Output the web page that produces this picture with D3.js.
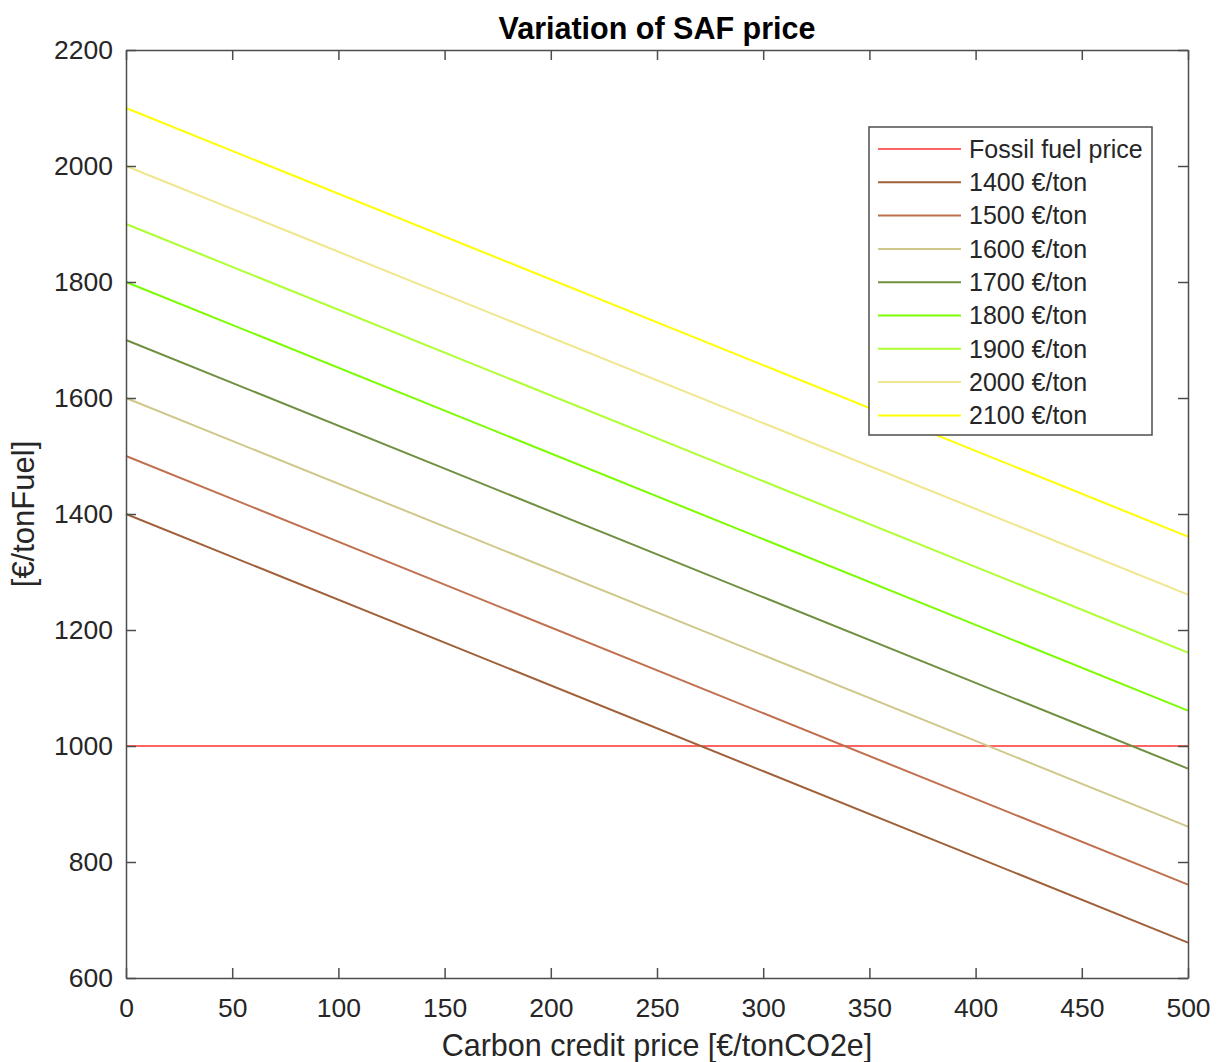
<!DOCTYPE html>
<html>
<head>
<meta charset="utf-8">
<script src="https://cdn.jsdelivr.net/npm/d3@7"></script>
<style>
  body { margin: 0; background: #fff; }
  svg { font-family: "Liberation Sans", Arial, sans-serif; }
</style>
</head>
<body>
<svg width="1220" height="1062"></svg>
<script>
// Data
const carbonPrices = [0, 500];
const fossilPrice = 1000;
const safLabels = ["1400 €/ton", "1500 €/ton", "1600 €/ton", "1700 €/ton", "1800 €/ton", "1900 €/ton", "2000 €/ton", "2100 €/ton"];
const safStart = [1400, 1500, 1600, 1700, 1800, 1900, 2000, 2100];
const safEnd = [661, 761, 861, 961, 1061, 1161, 1261, 1361];
const safColors = ["#a0603a", "#c0704f", "#cfc88a", "#6f9040", "#7cfc00", "#adff2f", "#f0e68c", "#ffff00"];
const xTicks = [0, 50, 100, 150, 200, 250, 300, 350, 400, 450, 500];
const yTicks = [600, 800, 1000, 1200, 1400, 1600, 1800, 2000, 2200];

const svg = d3.select("svg");
const margin = { top: 50, right: 32, bottom: 84, left: 126 };
const width = +svg.attr("width") - margin.left - margin.right;
const height = +svg.attr("height") - margin.top - margin.bottom;

const g = svg.append("g").attr("transform", `translate(${margin.left},${margin.top})`);

const xScale = d3.scaleLinear().domain([0, 500]).range([0, width]);
const yScale = d3.scaleLinear().domain([600, 2200]).range([height, 0]);

const axisColor = "#4d4d4d";
const textColor = "#262626";

// Lines
const line = d3.line().x(d => xScale(d[0])).y(d => yScale(d[1]));

const series = [{ label: "Fossil fuel price", color: "#ff6464", pts: carbonPrices.map(c => [c, fossilPrice]) }]
  .concat(safLabels.map((l, i) => ({ label: l, color: safColors[i], pts: [[carbonPrices[0], safStart[i]], [carbonPrices[1], safEnd[i]]] })));

g.selectAll(".line")
  .data(series)
  .enter().append("path")
  .attr("class", "line")
  .attr("d", d => line(d.pts))
  .attr("fill", "none")
  .attr("stroke", d => d.color)
  .attr("stroke-width", 2);

// Axes (ticks inward, mirrored on all sides)
const tickLen = 10;
const fmt = d3.format("d");
const xAxis = g.append("g").attr("transform", `translate(0,${height})`)
  .call(d3.axisBottom(xScale).tickValues(xTicks).tickFormat(fmt).tickSizeInner(-tickLen).tickSizeOuter(0).tickPadding(20));
const xTop = g.append("g")
  .call(d3.axisTop(xScale).tickValues(xTicks).tickSizeInner(-tickLen).tickSizeOuter(0).tickFormat(""));
const yAxis = g.append("g")
  .call(d3.axisLeft(yScale).tickValues(yTicks).tickFormat(fmt).tickSizeInner(-tickLen).tickSizeOuter(0).tickPadding(13));
const yRight = g.append("g").attr("transform", `translate(${width},0)`)
  .call(d3.axisRight(yScale).tickValues(yTicks).tickSizeInner(-tickLen).tickSizeOuter(0).tickFormat(""));

[xAxis, xTop, yAxis, yRight].forEach(a => {
  a.selectAll("path").attr("stroke", axisColor).attr("stroke-width", 1.5);
  a.selectAll("line").attr("stroke", axisColor).attr("stroke-width", 1.5);
  a.selectAll("text").attr("fill", textColor).style("font-size", "26.5px").style("font-family", "Liberation Sans, Arial, sans-serif");
});
xAxis.selectAll("text").attr("dy", "0.71em");

// Title and labels
svg.append("text")
  .attr("x", margin.left + width / 2)
  .attr("y", 39)
  .attr("text-anchor", "middle")
  .attr("fill", "#000")
  .style("font-size", "30.5px")
  .style("font-weight", "bold")
  .text("Variation of SAF price");

svg.append("text")
  .attr("x", margin.left + width / 2)
  .attr("y", 1056)
  .attr("text-anchor", "middle")
  .attr("fill", textColor)
  .style("font-size", "30.5px")
  .text("Carbon credit price [€/tonCO2e]");

svg.append("text")
  .attr("transform", `translate(34,${margin.top + height / 2}) rotate(-90)`)
  .attr("text-anchor", "middle")
  .attr("fill", textColor)
  .style("font-size", "31px")
  .text("[€/tonFuel]");

// Legend
const legend = svg.append("g").attr("transform", "translate(869,127)");
legend.append("rect")
  .attr("width", 283)
  .attr("height", 308)
  .attr("fill", "#fff")
  .attr("stroke", axisColor)
  .attr("stroke-width", 1.5);

const rows = legend.selectAll(".row")
  .data(series)
  .enter().append("g")
  .attr("transform", (d, i) => `translate(0,${22 + i * 33.3})`);

rows.append("line")
  .attr("x1", 9).attr("x2", 92)
  .attr("stroke", d => d.color)
  .attr("stroke-width", 2);

rows.append("text")
  .attr("x", 100)
  .attr("dy", "0.35em")
  .attr("fill", textColor)
  .style("font-size", "25px")
  .text(d => d.label);
</script>
</body>
</html>
